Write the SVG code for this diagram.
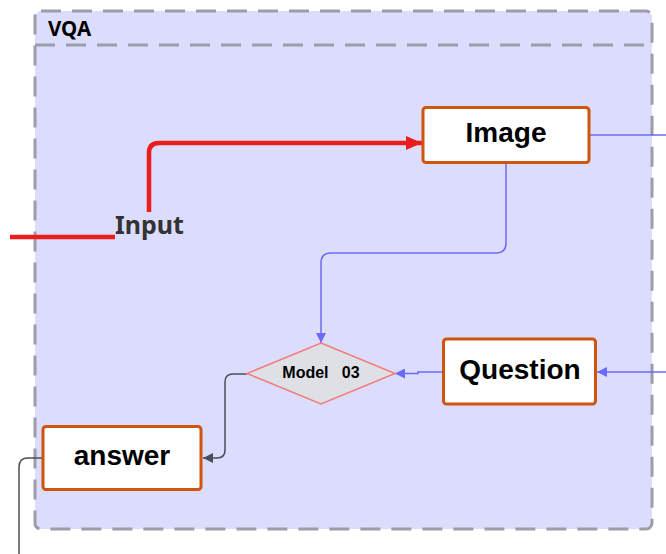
<svg xmlns="http://www.w3.org/2000/svg" width="666" height="554" viewBox="0 0 666 554">
  <style>
    .frame { fill: #dcdcfc; stroke: #9b9ea9; stroke-width: 3; stroke-dasharray: 20 11; }
    .sep { fill: none; stroke: #9b9ea9; stroke-width: 3; stroke-dasharray: 20 11; }
    .box { fill: #ffffff; stroke: #d0540c; stroke-width: 3; }
    .lbl { font-family: "Liberation Sans", Arial, sans-serif; font-weight: bold; fill: #000; text-anchor: middle; }
    .blue { fill: none; stroke: #6b6bfa; stroke-width: 1.5; }
    .dark { fill: none; stroke: #4a4e5a; stroke-width: 1.5; }
    .red { fill: none; stroke: #ea1c1c; stroke-width: 4.5; }
  </style>
  <defs>
    <marker id="arrowBlue" viewBox="0 0 10 10" refX="10" refY="5" markerWidth="10" markerHeight="10" markerUnits="userSpaceOnUse" orient="auto">
      <path d="M0,0 L10,5 L0,10 Z" fill="#6b6bfa"/>
    </marker>
    <marker id="arrowDark" viewBox="0 0 10 10" refX="10" refY="5" markerWidth="10" markerHeight="10" markerUnits="userSpaceOnUse" orient="auto">
      <path d="M0,0 L10,5 L0,10 Z" fill="#4a4e5a"/>
    </marker>
    <marker id="arrowRed" viewBox="0 0 16 14" refX="16" refY="7" markerWidth="16" markerHeight="14" markerUnits="userSpaceOnUse" orient="auto">
      <path d="M0,0 L16,7 L0,14 Z" fill="#ea1c1c"/>
    </marker>
  </defs>

  <!-- VQA container -->
  <g id="vqa">
    <rect class="frame" x="35" y="11" width="617" height="518" rx="6"/>
    <line class="sep" x1="35" y1="45" x2="652" y2="45"/>
    <text x="48" y="36" font-family="'Noto Sans', 'Open Sans', sans-serif" font-weight="bold" font-size="20.5" fill="#000">VQA</text>
  </g>

  <!-- connectors -->
  <g id="connectors">
    <path class="red" d="M10,237 L115,237"/>
    <path class="red" d="M149,212 L149,153 Q149,143 159,143 L422,143" marker-end="url(#arrowRed)"/>
    <path class="blue" d="M589,135 L666,135"/>
    <path class="blue" d="M506,163 L506,243 Q506,253 496,253 L331,253 Q321,253 321,263 L321,343" marker-end="url(#arrowBlue)"/>
    <path class="blue" d="M666,372 L597,372" marker-end="url(#arrowBlue)"/>
    <path class="blue" d="M443,372 L418,372 L418,373.5 L395,373.5" marker-end="url(#arrowBlue)"/>
    <path class="dark" d="M247,374 L233,374 Q225,374 225,382 L225,450 Q225,458 217,458 L203,458" marker-end="url(#arrowDark)"/>
    <path class="dark" d="M42,458 L28,458 Q19,458 19,467 L19,554"/>
  </g>

  <!-- Input label -->
  <g id="input">
    <text x="115" y="234" font-family="'Noto Sans', 'Open Sans', sans-serif" font-weight="bold" font-size="25" fill="#333333">Input</text>
  </g>

  <g id="image">
    <rect class="box" x="423" y="107.5" width="166" height="55" rx="3"/>
    <text class="lbl" x="506" y="142" font-size="28">Image</text>
  </g>

  <g id="model03">
    <polygon points="321,343 395,373.5 321,404 247,373.5" fill="#dfe0e6" stroke="#f47c7c" stroke-width="1.5"/>
    <text class="lbl" x="321" y="378" font-size="16" xml:space="preserve">Model   03</text>
  </g>

  <g id="question">
    <rect class="box" x="443.5" y="339" width="152" height="65" rx="3"/>
    <text class="lbl" x="520" y="379" font-size="28">Question</text>
  </g>

  <g id="answer">
    <rect class="box" x="43" y="426.5" width="158" height="63" rx="3"/>
    <text class="lbl" x="122" y="465" font-size="28">answer</text>
  </g>
</svg>
